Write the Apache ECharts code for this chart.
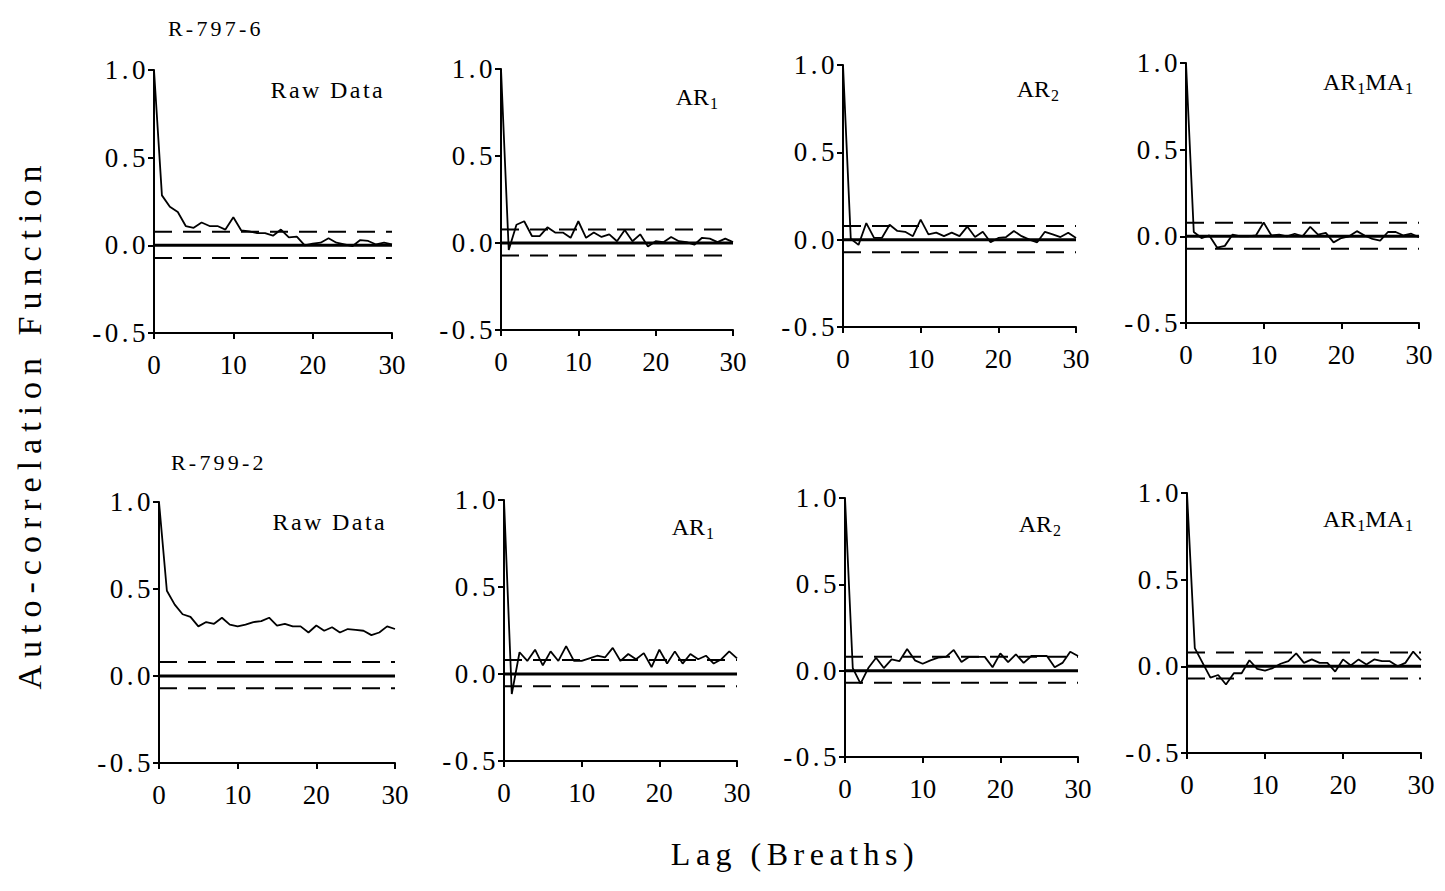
<!DOCTYPE html>
<html>
<head>
<meta charset="utf-8">
<script src="https://cdn.jsdelivr.net/npm/echarts@6/dist/echarts.min.js"></script>
<style>
html,body{margin:0;padding:0;background:#fff;}
#main{width:1445px;height:891px;}
</style>
</head>
<body>
<div id="main"></div>
<script>
// ---------- data ----------
const lags = [0,1,2,3,4,5,6,7,8,9,10,11,12,13,14,15,16,17,18,19,20,21,22,23,24,25,26,27,28,29,30];
const xTicks = [0, 10, 20, 30];
const yTicks = [-0.5, 0.0, 0.5, 1.0];
const subjects = ['R-797-6', 'R-799-2'];
const panelTitles = ['Raw Data', '{m|AR}{s|1}', '{m|AR}{s|2}', '{m|AR}{s|1}{m|MA}{s|1}'];

// R-797-6
const r797Raw  = [1.0, 0.285, 0.22, 0.19, 0.11, 0.10, 0.13, 0.11, 0.11, 0.09, 0.16, 0.085, 0.08, 0.07, 0.07, 0.055, 0.09, 0.045, 0.05, 0.0, 0.01, 0.015, 0.04, 0.015, 0.005, -0.005, 0.03, 0.025, 0.005, 0.015, 0.005];
const r797AR1  = [1.0, -0.04, 0.105, 0.125, 0.04, 0.04, 0.09, 0.06, 0.06, 0.03, 0.125, 0.03, 0.06, 0.035, 0.05, 0.01, 0.075, 0.01, 0.05, -0.02, 0.01, 0.005, 0.035, 0.01, 0.005, -0.01, 0.03, 0.025, 0.005, 0.025, 0.005];
const r797AR2  = [1.0, 0.005, -0.03, 0.095, 0.01, 0.01, 0.085, 0.05, 0.045, 0.02, 0.115, 0.03, 0.04, 0.02, 0.04, 0.02, 0.075, 0.015, 0.045, -0.015, 0.01, 0.015, 0.05, 0.02, 0.0, -0.015, 0.045, 0.03, 0.015, 0.04, 0.01];
const r797ARMA = [1.0, 0.025, -0.01, 0.005, -0.065, -0.055, 0.01, 0.0, 0.0, 0.005, 0.08, 0.005, 0.01, 0.0, 0.015, 0.0, 0.055, 0.01, 0.02, -0.035, -0.01, 0.0, 0.03, 0.005, -0.015, -0.025, 0.025, 0.025, 0.005, 0.015, -0.005];
// R-799-2
const r799Raw  = [1.0, 0.49, 0.41, 0.355, 0.34, 0.285, 0.31, 0.30, 0.335, 0.295, 0.285, 0.295, 0.31, 0.315, 0.335, 0.29, 0.30, 0.285, 0.285, 0.25, 0.29, 0.26, 0.28, 0.25, 0.27, 0.265, 0.26, 0.235, 0.25, 0.285, 0.27];
const r799AR1  = [1.0, -0.115, 0.125, 0.075, 0.14, 0.05, 0.13, 0.075, 0.16, 0.075, 0.075, 0.09, 0.105, 0.095, 0.15, 0.075, 0.115, 0.085, 0.12, 0.04, 0.14, 0.06, 0.13, 0.06, 0.115, 0.085, 0.105, 0.06, 0.085, 0.13, 0.09];
const r799AR2  = [1.0, 0.015, -0.075, 0.015, 0.075, 0.015, 0.065, 0.055, 0.125, 0.06, 0.04, 0.06, 0.075, 0.08, 0.12, 0.05, 0.08, 0.08, 0.08, 0.02, 0.10, 0.05, 0.095, 0.045, 0.085, 0.085, 0.085, 0.02, 0.045, 0.11, 0.085];
const r799ARMA = [1.0, 0.105, 0.02, -0.065, -0.05, -0.105, -0.04, -0.04, 0.035, -0.015, -0.025, -0.01, 0.015, 0.03, 0.075, 0.02, 0.04, 0.02, 0.02, -0.03, 0.04, 0.005, 0.04, 0.01, 0.04, 0.03, 0.03, 0.0, 0.02, 0.085, 0.035];

// 95% confidence limits (upper, lower) per subject
const confR797 = [0.078, -0.072];
const confR799 = [0.08, -0.07];

// ---------- layout ----------
const FONT = '"Liberation Serif", "Times New Roman", serif';
const panels = [
  {vals: r797Raw,  conf: confR797, title: 0, grid: {left:154, top:70, width:238, height:263}, lx:385, ly:90},
  {vals: r797AR1,  conf: confR797, title: 1, grid: {left:501, top:69, width:232, height:261}, lx:718, ly:97},
  {vals: r797AR2,  conf: confR797, title: 2, grid: {left:843, top:65, width:233, height:262}, lx:1059, ly:89},
  {vals: r797ARMA, conf: confR797, title: 3, grid: {left:1186, top:63, width:233, height:260}, lx:1413, ly:82},
  {vals: r799Raw,  conf: confR799, title: 0, grid: {left:159, top:502, width:236, height:261}, lx:387, ly:522},
  {vals: r799AR1,  conf: confR799, title: 1, grid: {left:504, top:500, width:233, height:261}, lx:714, ly:527},
  {vals: r799AR2,  conf: confR799, title: 2, grid: {left:845, top:498, width:233, height:259}, lx:1061, ly:524},
  {vals: r799ARMA, conf: confR799, title: 3, grid: {left:1187, top:493, width:234, height:260}, lx:1413, ly:519}
];

const grid = [], xAxis = [], yAxis = [], series = [], graphic = [];
const axisLineStyle = {color:'#000', width:2};
panels.forEach((p, i) => {
  grid.push(Object.assign({outerBoundsMode:'none', containLabel:false}, p.grid));
  xAxis.push({
    gridIndex:i, type:'value', min:xTicks[0], max:xTicks[xTicks.length-1], interval:10,
    axisLine:{show:true, onZero:false, lineStyle:axisLineStyle},
    axisTick:{show:true, length:6, inside:false, lineStyle:axisLineStyle},
    axisLabel:{show:true, margin:18, color:'#000', fontFamily:FONT, fontSize:27, showMinLabel:true, showMaxLabel:true},
    splitLine:{show:false}
  });
  yAxis.push({
    gridIndex:i, type:'value', min:yTicks[0], max:yTicks[yTicks.length-1], interval:0.5,
    axisLine:{show:true, onZero:false, lineStyle:axisLineStyle},
    axisTick:{show:true, length:6, inside:false, lineStyle:axisLineStyle},
    axisLabel:{show:true, margin:5, color:'#000', fontFamily:FONT, fontSize:27,
      formatter: v => Number(v).toFixed(1), showMinLabel:true, showMaxLabel:true},
    splitLine:{show:false}
  });
  const x0 = lags[0], x1 = lags[lags.length-1];
  p.conf.forEach(c => {
    series.push({type:'line', xAxisIndex:i, yAxisIndex:i, data:[[x0,c],[x1,c]], symbol:'none', silent:true,
      lineStyle:{color:'#000', width:2, type:[18,11]}, z:2});
  });
  series.push({type:'line', xAxisIndex:i, yAxisIndex:i, data:[[x0,0],[x1,0]], symbol:'none', silent:true,
    lineStyle:{color:'#000', width:3}, z:3});
  series.push({type:'line', xAxisIndex:i, yAxisIndex:i, data:lags.map((l,k)=>[l, p.vals[k]]), symbol:'none', silent:true,
    lineStyle:{color:'#000', width:1.8}, z:4});
  graphic.push({
    type:'text', x:p.lx, y:p.ly, silent:true,
    style:{
      text: panelTitles[p.title], textAlign:'right', textVerticalAlign:'middle', fill:'#000',
      font: '24px ' + FONT,
      rich:{
        m:{fontFamily:FONT, fontSize:24, lineHeight:28, fill:'#000'},
        s:{fontFamily:FONT, fontSize:16, lineHeight:16, padding:[12,0,0,1], fill:'#000'}
      }
    }
  });
});

graphic.push({type:'text', x:168, y:28, silent:true,
  style:{text:subjects[0], font:'22px ' + FONT, textAlign:'left', textVerticalAlign:'middle', fill:'#000'}});
graphic.push({type:'text', x:171, y:462, silent:true,
  style:{text:subjects[1], font:'22px ' + FONT, textAlign:'left', textVerticalAlign:'middle', fill:'#000'}});
graphic.push({type:'text', x:29, y:424, rotation:Math.PI/2, silent:true,
  style:{text:'Auto-correlation Function', font:'34px ' + FONT, textAlign:'center', textVerticalAlign:'middle', fill:'#000'}});
graphic.push({type:'text', x:795, y:854, silent:true,
  style:{text:'Lag (Breaths)', font:'32px ' + FONT, textAlign:'center', textVerticalAlign:'middle', fill:'#000'}});

const chart = echarts.init(document.getElementById('main'), null, {renderer:'svg'});
chart.setOption({animation:false, backgroundColor:'#fff', grid, xAxis, yAxis, series, graphic});

// wide letter spacing of the original typesetting
const spacing = {'Auto-correlation Function':7, 'Lag (Breaths)':5.5, 'R-797-6':3.2, 'R-799-2':3.2, 'Raw Data':2.4};
function applySpacing(){
  document.querySelectorAll('#main svg text').forEach(t => {
    const s = (t.textContent || '').trim();
    let ls = null;
    if (spacing[s] != null) ls = spacing[s];
    else if (/^-?\d\.\d$/.test(s)) ls = 3.5;
    if (ls != null) t.setAttribute('letter-spacing', ls + 'px');
  });
}
chart.on('finished', applySpacing);
applySpacing();
setTimeout(applySpacing, 30);
</script>
</body>
</html>
